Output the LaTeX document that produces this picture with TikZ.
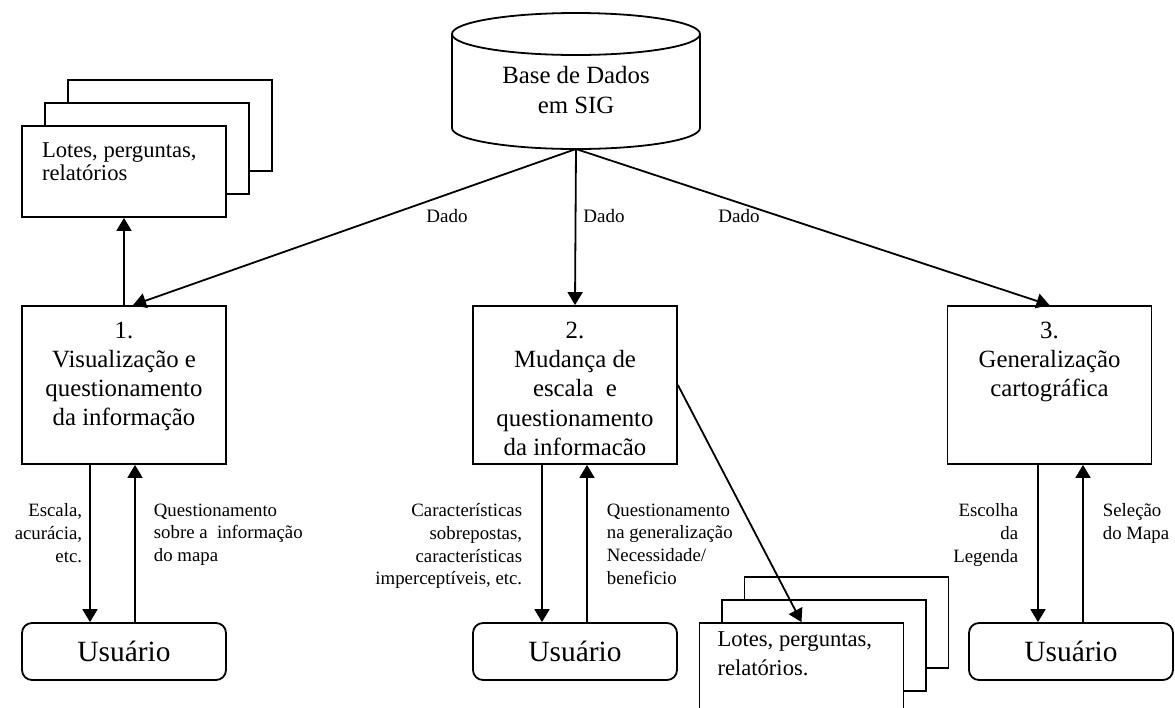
\documentclass[tikz,border=0pt]{standalone}
\usepackage{fontspec}
\setmainfont{Liberation Serif}
\usetikzlibrary{positioning,arrows.meta}

\begin{document}
\begin{tikzpicture}[
		x=0.5pt, y=-0.5pt
		,line width=0.9pt
		,>={Triangle[length=6.5pt,width=7.5pt]}
		,proc/.style={draw, minimum width=102pt, minimum height=79pt, inner sep=0pt}
		,ptext/.style={align=center, inner sep=0pt, font=\fontsize{12.4}{14.6}\selectfont}
		,user/.style={draw, rounded corners=5pt, minimum width=102pt, minimum height=28.5pt, inner sep=0pt, font=\fontsize{14.7}{17}\selectfont}
		,doc/.style={draw, fill=white, minimum width=102pt, minimum height=45.5pt, inner sep=0pt}
		,dtext/.style={align=left, inner sep=0pt, font=\fontsize{11.3}{11.4}\selectfont}
		,lab/.style={inner sep=0pt, font=\fontsize{9.4}{11.3}\selectfont}
	]
	\useasboundingbox (0,0) rectangle (1175,708);

	% base de dados
	\draw (452,34) -- (452,128) arc[start angle=180, end angle=360, x radius=62pt, y radius=10.5pt] -- (700,34);
	\draw (576,34) ellipse [x radius=62pt, y radius=10.5pt];
	\node [ptext, anchor=north, font=\fontsize{12.4}{15}\selectfont] (db) at (576,65) {Base de Dados\\em SIG};
	\coordinate (dbs) at (576,149);

	% processos
	\node [proc] (p1) at (124,385) {};
	\node [proc] (p2) at (575,385) {};
	\node [proc] (p3) at (1049.5,385) {};
	\node [ptext, below=8pt of p1.north] (t1) {1.\\Visualização e\\questionamento\\da informação};
	\node [ptext, below=8pt of p2.north] (t2) {2.\\Mudança de\\escala\ \ e\\questionamento\\da informacão};
	\node [ptext, below=8pt of p3.north] (t3) {3.\\Generalização\\cartográfica};

	% usuarios
	\node [user] (u1) at (124,651.5) {Usuário};
	\node [user] (u2) at (575,651.5) {Usuário};
	\node [user] (u3) at (1071,651.5) {Usuário};

	% pilhas de relatorios
	\node [doc] (r1c) at (170,125.5) {};
	\node [doc] (r1b) at (147,148.5) {};
	\node [doc] (r1) at (124,171.5) {};
	\node [dtext, below right=8.5pt and 10pt of r1.north west] (r1t) {Lotes, perguntas,\\relatórios};
	\node [doc] (r2c) at (846.5,622.5) {};
	\node [doc] (r2b) at (824,645.5) {};
	\node [doc] (r2) at (801.5,668.5) {};
	\node [dtext, below right=4.5pt and 9pt of r2.north west, font=\fontsize{11.3}{14.5}\selectfont] (r2t) {Lotes, perguntas,\\relatórios.};

	% dados
	\draw [->] (dbs) -- ([xshift=4.5pt]p1.north);
	\draw [->] (dbs) -- (p2.north);
	\draw [->] (dbs) -- (p3.north);
	\node [lab, font=\fontsize{9.5}{11}\selectfont] (d1) at (447,216) {Dado};
	\node [lab, font=\fontsize{9.5}{11}\selectfont] (d2) at (604,216) {Dado};
	\node [lab, font=\fontsize{9.5}{11}\selectfont] (d3) at (739,216) {Dado};

	\draw [->] (p1.north) -- (r1.south);
	\draw [->] (p2.east) -- (r2.north);

	% idas e voltas
	\draw [->] ([xshift=-17pt]p1.south) -- ([xshift=-17pt]u1.north);
	\draw [->] ([xshift=5.5pt]u1.north) -- ([xshift=5.5pt]p1.south);
	\draw [->] ([xshift=-16.5pt]p2.south) -- ([xshift=-16.5pt]u2.north);
	\draw [->] ([xshift=6pt]u2.north) -- ([xshift=6pt]p2.south);
	\draw [->] ([xshift=-5.75pt]p3.south) -- ([xshift=-16.5pt]u3.north);
	\draw [->] ([xshift=6pt]u3.north) -- ([xshift=16.75pt]p3.south);

	\node [lab, align=right, anchor=north east] (l1) at (83,503) {Escala,\\acurácia,\\etc.};
	\node [lab, align=left, anchor=north west] (q1) at (153,503) {Questionamento\\sobre a\ \ informação\\do mapa};
	\node [lab, align=right, anchor=north east] (l2) at (523,503) {Características\\sobrepostas,\\características\\imperceptíveis, etc.};
	\node [lab, align=left, anchor=north west] (q2) at (606,503) {Questionamento\\na generalização\\Necessidade/\\beneficio};
	\node [lab, align=right, anchor=north east] (l3) at (1019,503) {Escolha\\da\\Legenda};
	\node [lab, align=left, anchor=north west] (q3) at (1102,503) {Seleção\\do Mapa};
\end{tikzpicture}
\end{document}
